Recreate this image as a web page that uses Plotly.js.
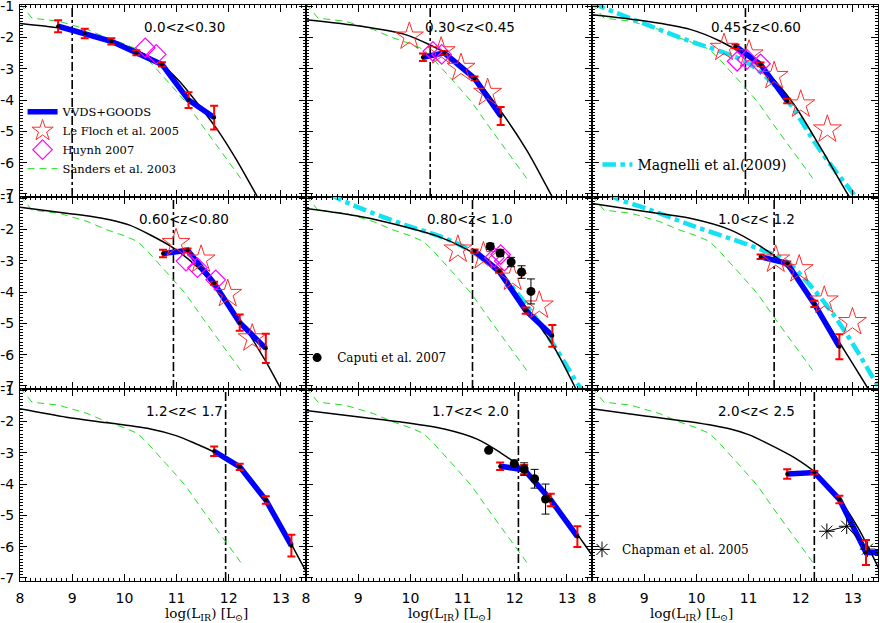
<!DOCTYPE html>
<html>
<head>
<meta charset="utf-8">
<script src="https://cdn.plot.ly/plotly-3.0.1.min.js"></script>
<style>html,body{margin:0;padding:0;background:#fff}#lf{width:880px;height:623px}</style>
</head>
<body>
<div id="lf"></div>
<script>
// one entry per redshift bin, panels read left to right, top to bottom
var zBins = ['0.0&lt;z&lt;0.30', '0.30&lt;z&lt;0.45', '0.45&lt;z&lt;0.60',
             '0.60&lt;z&lt;0.80', '0.80&lt;z&lt; 1.0', '1.0&lt;z&lt; 1.2',
             '1.2&lt;z&lt; 1.7', '1.7&lt;z&lt; 2.0', '2.0&lt;z&lt; 2.5'];
var limitL = [9.0, 10.38, 10.94, 10.94, 11.19, 11.49, 11.94, 12.07, 12.26];

var phiTicks = [-1, -2, -3, -4, -5, -6, -7];
var phiTickText = ['-1', '-2', '-3', '-4', '-5', '-6', '-7'];

// black model curve
var modelL = [
  [8.0, 8.5, 9.0, 9.5, 9.91, 10.3, 10.67, 11.05, 11.44, 11.82, 12.14, 12.52, 12.6],
  [8.0, 9.06, 9.89, 10.38, 10.72, 11.23, 11.73, 12.24, 12.69, 12.75],
  [8.0, 9.05, 9.88, 10.46, 10.96, 11.36, 11.87, 12.38, 12.9, 12.97],
  [8.0, 8.89, 9.4, 9.72, 10.1, 10.48, 10.93, 11.37, 11.82, 12.2, 12.45, 12.71, 12.99, 13.05],
  [8.0, 9.06, 9.89, 10.53, 10.97, 11.35, 11.86, 12.24, 12.75, 13.13, 13.2],
  [8.0, 9.05, 9.88, 10.65, 11.23, 11.62, 11.94, 12.38, 12.83, 13.28, 13.35],
  [8.0, 8.89, 9.72, 10.48, 10.99, 11.37, 11.69, 11.95, 12.2, 12.45, 12.71, 12.9, 13.09, 13.34, 13.5],
  [8.0, 9.06, 9.89, 10.65, 11.29, 11.73, 12.05, 12.56, 13.01, 13.45, 13.6],
  [8.0, 9.05, 9.88, 10.65, 11.0, 11.36, 11.87, 12.29, 12.71, 13.09, 13.47, 13.6]
];
var modelPhi = [
  [-1.55, -1.64, -1.76, -1.97, -2.2, -2.46, -2.81, -3.39, -4.19, -5.04, -5.89, -7.01, -7.25],
  [-1.43, -1.64, -1.9, -2.24, -2.54, -3.29, -4.35, -5.63, -7.01, -7.2],
  [-1.27, -1.48, -1.74, -2.12, -2.6, -3.13, -4.14, -5.52, -7.01, -7.2],
  [-1.29, -1.48, -1.59, -1.69, -1.86, -2.16, -2.58, -3.16, -4.01, -4.85, -5.5, -6.22, -7.07, -7.25],
  [-1.33, -1.59, -1.91, -2.22, -2.54, -2.91, -3.7, -4.54, -5.75, -6.96, -7.2],
  [-1.17, -1.43, -1.64, -2.01, -2.54, -3.01, -3.58, -4.65, -5.85, -7.06, -7.25],
  [-1.59, -1.86, -2.05, -2.23, -2.45, -2.71, -2.95, -3.2, -3.5, -3.93, -4.48, -5.0, -5.58, -6.36, -6.85],
  [-1.65, -1.86, -2.03, -2.24, -2.57, -3.0, -3.38, -4.19, -5.16, -6.2, -6.55],
  [-1.59, -1.83, -2.01, -2.24, -2.42, -2.7, -3.15, -3.65, -4.41, -5.38, -6.62, -7.1]
];

// Sanders et al. 2003, same local curve in every panel
var sandersL = [8.0, 8.23, 8.75, 9.3, 9.65, 10.0, 10.25, 10.42, 10.8, 11.17, 11.55, 11.95, 12.25];
var sandersPhi = [-0.92, -1.38, -1.48, -1.75, -2.0, -2.2, -2.38, -2.65, -3.35, -4.05, -4.95, -5.85, -6.55];

// Magnelli et al. 2009
var magnelliL = [[], [],
  [8.0, 8.6, 9.05, 9.88, 10.46, 10.97, 11.36, 11.74, 12.38, 12.99, 13.1],
  [],
  [8.45, 8.62, 9.06, 9.89, 10.65, 11.16, 11.73, 12.24, 12.75, 13.26, 13.35],
  [8.3, 8.47, 9.05, 9.88, 10.72, 11.23, 11.68, 12.13, 12.64, 13.09, 13.47, 13.6],
  [], [], []];
var magnelliPhi = [[], [],
  [-0.9, -1.3, -1.59, -2.12, -2.44, -2.8, -3.3, -4.0, -5.63, -6.96, -7.2],
  [],
  [-0.85, -1.01, -1.33, -1.85, -2.27, -2.69, -3.43, -4.45, -5.7, -7.06, -7.2],
  [-0.85, -1.01, -1.33, -1.85, -2.33, -2.64, -2.96, -3.69, -4.75, -5.91, -6.96, -7.2],
  [], [], []];

// VVDS+GOODS
var vvdsL = [
  [8.73, 9.24, 9.75, 10.23, 10.72, 11.23, 11.72],
  [10.24, 10.65, 11.23, 11.73],
  [10.75, 11.23, 11.74],
  [10.74, 11.21, 11.72, 12.21, 12.71],
  [11.23, 11.7, 12.21, 12.72],
  [11.23, 11.74, 12.26, 12.74],
  [11.72, 12.21, 12.71, 13.2],
  [11.72, 12.18, 12.69, 13.2],
  [11.74, 12.26, 12.74, 13.25, 13.75]
];
var vvdsPhi = [
  [-1.64, -1.87, -2.12, -2.49, -2.86, -4.0, -4.56],
  [-2.63, -2.49, -3.31, -4.51],
  [-2.28, -2.86, -4.03],
  [-2.77, -2.66, -3.72, -4.98, -5.8],
  [-2.69, -3.33, -4.59, -5.4],
  [-2.87, -3.08, -4.38, -5.75],
  [-2.95, -3.45, -4.51, -5.97],
  [-3.43, -3.54, -4.51, -5.68],
  [-3.68, -3.63, -4.49, -6.19, -6.2]
];
var vvdsErr = [
  [0.19, 0.15, 0.1, 0.08, 0.07, 0.25, 0.38],
  [0.12, 0.06, 0.06, 0.29],
  [0.06, 0.06, 0.07],
  [0.12, 0.05, 0.05, 0.26, 0.47],
  [0.05, 0.05, 0.1, 0.35],
  [0.07, 0.06, 0.1, 0.4],
  [0.15, 0.1, 0.12, 0.35],
  [0.12, 0.15, 0.2, 0.33],
  [0.15, 0.05, 0.12, 0.4, 0.3]
];

// Le Floch et al. 2005
var lefochL = [[], [9.98, 10.59, 10.97, 11.48], [10.53, 11.01, 11.49, 12.0, 12.51],
  [10.99, 11.47, 11.98, 12.45], [10.91, 11.4, 11.96, 12.47], [11.52, 11.97, 12.45, 12.99], [], [], []];
var lefochPhi = [[], [-1.97, -2.44, -2.97, -3.77], [-2.33, -2.54, -3.23, -4.14, -4.94],
  [-2.43, -2.96, -4.06, -5.48], [-2.64, -2.85, -3.54, -4.43], [-2.96, -3.27, -4.27, -4.96], [], [], []];

// Huynh 2007
var huynhL = [[10.4, 10.61], [10.43, 10.6], [10.78, 10.97, 11.23], [11.18, 11.4, 11.75],
  [11.61, 11.73, 11.8], [], [], [], []];
var huynhPhi = [[-2.33, -2.54], [-2.44, -2.54], [-2.76, -2.7, -2.84], [-3.01, -3.22, -3.61],
  [-2.9, -2.8, -3.01], [], [], [], []];

// Caputi et al. 2007
var caputiL = [[], [], [], [], [11.53, 11.72, 11.93, 12.13, 12.31], [], [], [11.5, 11.99, 12.18, 12.38, 12.59], []];
var caputiPhi = [[], [], [], [], [-2.54, -2.75, -3.04, -3.36, -3.98], [], [], [-2.92, -3.35, -3.52, -3.83, -4.48], []];
var caputiErr = [[], [], [], [], [0.1, 0.1, 0.15, 0.2, 0.4], [], [], [0.03, 0.12, 0.2, 0.3, 0.48], []];

// Chapman et al. 2005
var chapmanL = [[], [], [], [], [], [], [], [], [12.5, 12.88, 13.28]];
var chapmanPhi = [[], [], [], [], [], [], [], [], [-5.51, -5.35, -6.08]];

var data = [];
var layout = {
  width: 880, height: 623,
  margin: {l: 20, r: 2, t: 5, b: 42},
  paper_bgcolor: 'white', plot_bgcolor: 'white',
  font: {family: 'DejaVu Sans', size: 14, color: 'black'},
  showlegend: true,
  shapes: [], annotations: [],
  legend: {x: 0.003, y: 0.84, xanchor: 'left', yanchor: 'top', bgcolor: 'rgba(0,0,0,0)',
           font: {family: 'DejaVu Serif', size: 11.5}, tracegroupgap: 0},
  legend2: {x: 0.673, y: 0.75, xanchor: 'left', yanchor: 'top', bgcolor: 'rgba(0,0,0,0)',
            font: {family: 'DejaVu Serif', size: 14}},
  legend3: {x: 0.323, y: 0.413, xanchor: 'left', yanchor: 'top', bgcolor: 'rgba(0,0,0,0)',
            font: {family: 'DejaVu Serif', size: 12}},
  legend4: {x: 0.655, y: 0.08, xanchor: 'left', yanchor: 'top', bgcolor: 'rgba(0,0,0,0)',
            font: {family: 'DejaVu Serif', size: 12}}
};

for (var i = 0; i < 9; i++) {
  var row = Math.floor(i / 3), col = i % 3;
  var xa = 'x' + (i ? i + 1 : ''), ya = 'y' + (i ? i + 1 : '');

  layout['xaxis' + (i ? i + 1 : '')] = {
    domain: [col / 3, (col + 1) / 3], anchor: ya, range: [8, 13.48],
    tick0: 8, dtick: 1, ticks: 'inside', ticklen: 7, tickcolor: 'black',
    minor: {dtick: 0.1, ticks: 'inside', ticklen: 3, tickcolor: 'black'},
    showline: true, linecolor: 'black', linewidth: 1, mirror: 'allticks',
    showgrid: false, zeroline: false,
    showticklabels: row == 2, ticklabelstandoff: 4
  };
  layout['yaxis' + (i ? i + 1 : '')] = {
    domain: [1 - (row + 1) / 3, 1 - row / 3], anchor: xa, range: [-7.1, -0.96],
    tickvals: phiTicks, ticktext: phiTickText,
    ticks: 'inside', ticklen: 7, tickcolor: 'black',
    minor: {dtick: 0.1, ticks: 'inside', ticklen: 3, tickcolor: 'black'},
    showline: true, linecolor: 'black', linewidth: 1, mirror: 'allticks',
    showgrid: false, zeroline: false, ticklabeloverflow: 'allow',
    showticklabels: col == 0, ticklabelstandoff: 2
  };

  layout.shapes.push({type: 'line', layer: 'below', xref: xa, yref: ya + ' domain',
    x0: limitL[i], x1: limitL[i], y0: 0, y1: 1,
    line: {color: 'black', width: 1.6, dash: 'dashdot'}});

  layout.annotations.push({xref: xa, yref: ya + ' domain', x: 11.15, y: 0.935,
    text: zBins[i], showarrow: false, font: {size: 13.5}});

  data.push({x: sandersL, y: sandersPhi, xaxis: xa, yaxis: ya, mode: 'lines',
    line: {color: '#22dd22', width: 1, dash: '7px,5px'},
    name: 'Sanders et al. 2003', showlegend: i == 0, legend: 'legend', legendrank: 4});

  if (magnelliL[i].length) {
    data.push({x: magnelliL[i], y: magnelliPhi[i], xaxis: xa, yaxis: ya, mode: 'lines',
      line: {color: '#12e2f2', width: 4.5, dash: 'dashdot', shape: 'spline'},
      name: 'Magnelli et al.(2009)', showlegend: i == 2, legend: 'legend2'});
  }

  data.push({x: modelL[i], y: modelPhi[i], xaxis: xa, yaxis: ya, mode: 'lines',
    line: {color: 'black', width: 1.5, shape: 'spline', smoothing: 0.8}, showlegend: false});

  data.push({x: vvdsL[i], y: vvdsPhi[i], xaxis: xa, yaxis: ya, mode: 'lines',
    line: {color: '#0000ff', width: 5.5},
    name: 'VVDS+GOODS', showlegend: i == 0, legend: 'legend', legendrank: 1});

  if (chapmanL[i].length) {
    data.push({x: chapmanL[i], y: chapmanPhi[i], xaxis: xa, yaxis: ya, mode: 'lines',
      line: {color: 'black', width: 1}, showlegend: false});
    data.push({x: chapmanL[i], y: chapmanPhi[i], xaxis: xa, yaxis: ya, mode: 'markers',
      marker: {symbol: 'asterisk-open', size: 13, color: 'black', line: {color: 'black', width: 1}},
      name: 'Chapman et al. 2005', showlegend: i == 8, legend: 'legend4'});
  }

  if (lefochL[i].length) {
    data.push({x: lefochL[i], y: lefochPhi[i], xaxis: xa, yaxis: ya, mode: 'markers',
      marker: {symbol: 'star-open', size: 21, color: '#ff2a2a', line: {width: 1}},
      name: 'Le Floch et al. 2005', showlegend: i == 1, legend: 'legend', legendrank: 2});
  }
  if (huynhL[i].length) {
    data.push({x: huynhL[i], y: huynhPhi[i], xaxis: xa, yaxis: ya, mode: 'markers',
      marker: {symbol: 'diamond-open', size: 15, color: '#ff00ff', line: {width: 1.2}},
      name: 'Huynh 2007', showlegend: i == 0, legend: 'legend', legendrank: 3});
  }

  data.push({x: vvdsL[i], y: vvdsPhi[i], xaxis: xa, yaxis: ya, mode: 'markers',
    marker: {size: 4, color: 'black'}, showlegend: false,
    error_y: {type: 'data', array: vvdsErr[i], color: '#ff0000', thickness: 2, width: 4}});

  if (caputiL[i].length) {
    data.push({x: caputiL[i], y: caputiPhi[i], xaxis: xa, yaxis: ya, mode: 'markers',
      marker: {size: 9, color: 'black'},
      error_y: {type: 'data', array: caputiErr[i], color: 'black', thickness: 1, width: 4},
      name: 'Caputi et al. 2007', showlegend: i == 4, legend: 'legend3'});
  }
}

// x axis titles under the bottom row
for (var c = 0; c < 3; c++) {
  layout.annotations.push({xref: 'paper', yref: 'paper', x: (c + 0.5) / 3, y: -0.057,
    yanchor: 'middle', showarrow: false,
    text: 'log(L<sub>IR</sub>) [L<sub>\u2299</sub>]',
    font: {family: 'DejaVu Serif', size: 13.5}});
}

Plotly.newPlot('lf', data, layout, {staticPlot: true});
</script>
</body>
</html>
